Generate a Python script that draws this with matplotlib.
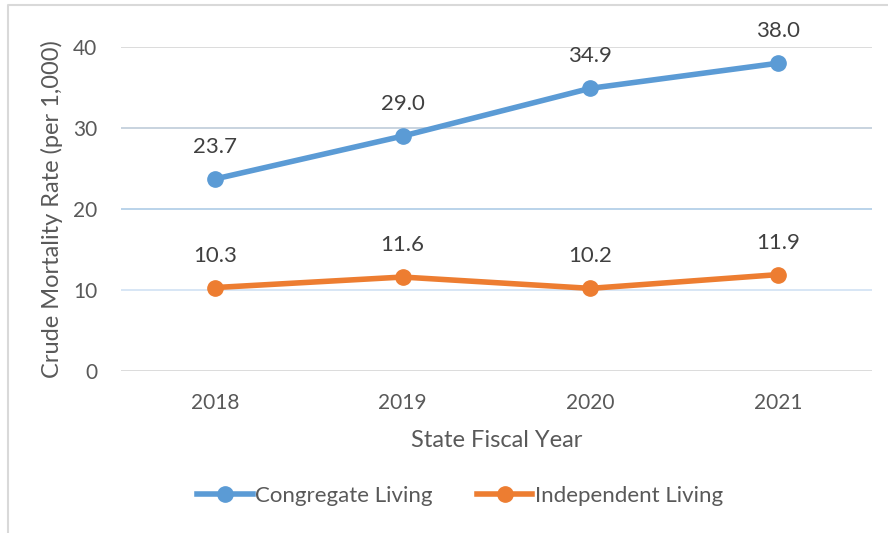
import matplotlib.pyplot as plt
from matplotlib.lines import Line2D

years = ['2018', '2019', '2020', '2021']
congregate = [23.7, 29.0, 34.9, 38.0]
independent = [10.3, 11.6, 10.2, 11.9]
yticks = [0, 10, 20, 30, 40]
grid_colors = ['#d9d9d9', '#d4e4f4', '#b4d0e8', '#c4d0dc', '#d9d9d9']

plt.rcParams['font.family'] = ['Lato', 'DejaVu Sans']
txt = '#595959'

fig = plt.figure(figsize=(8.88, 5.33), dpi=100)
ax = fig.add_axes([121 / 888, 1 - 371 / 533, 751 / 888, 324 / 533])

x = range(len(years))
for yv, c in zip(yticks, grid_colors):
    ax.axhline(yv, color=c, lw=1.3, zorder=0)

ax.plot(x, congregate, color='#5B9BD5', lw=4, marker='o', ms=11,
        solid_capstyle='round', label='Congregate Living', zorder=3)
ax.plot(x, independent, color='#ED7D31', lw=4, marker='o', ms=11,
        solid_capstyle='round', label='Independent Living', zorder=3)

for series in (congregate, independent):
    for xi, v in zip(x, series):
        ax.annotate(f'{v:.1f}', (xi, v), xytext=(0, 23), textcoords='offset points',
                    ha='center', va='center', fontsize=16, color='#404040')

ax.set_xlim(-0.5, 3.5)
ax.set_ylim(0, 40)
ax.set_xticks(list(x))
ax.set_xticklabels(years)
ax.set_yticks(yticks)
ax.tick_params(length=0, labelsize=15, colors=txt)
ax.tick_params(axis='x', pad=16)
ax.tick_params(axis='y', pad=17)
for s in ax.spines.values():
    s.set_visible(False)

ax.set_xlabel('State Fiscal Year', fontsize=17, color=txt, labelpad=12)
ax.set_ylabel('Crude Mortality Rate (per 1,000)', fontsize=17, color=txt, labelpad=7)

handles = [Line2D([], [], color='#5B9BD5', lw=4, marker='o', ms=11),
           Line2D([], [], color='#ED7D31', lw=4, marker='o', ms=11)]
fig.legend(handles, ['Congregate Living', 'Independent Living'],
           loc='center', bbox_to_anchor=(460 / 888, 1 - 496 / 533), ncol=2,
           frameon=False, fontsize=16, labelcolor=txt, handlelength=2.5,
           handletextpad=0.1, columnspacing=2.0)

# outer chart border (top and left visible)
fig.add_artist(Line2D([8 / 888, 8 / 888, 1], [0, 1 - 5 / 533, 1 - 5 / 533],
                      transform=fig.transFigure, color='#d9d9d9', lw=1.5))

fig.savefig('out.png', dpi=100)
